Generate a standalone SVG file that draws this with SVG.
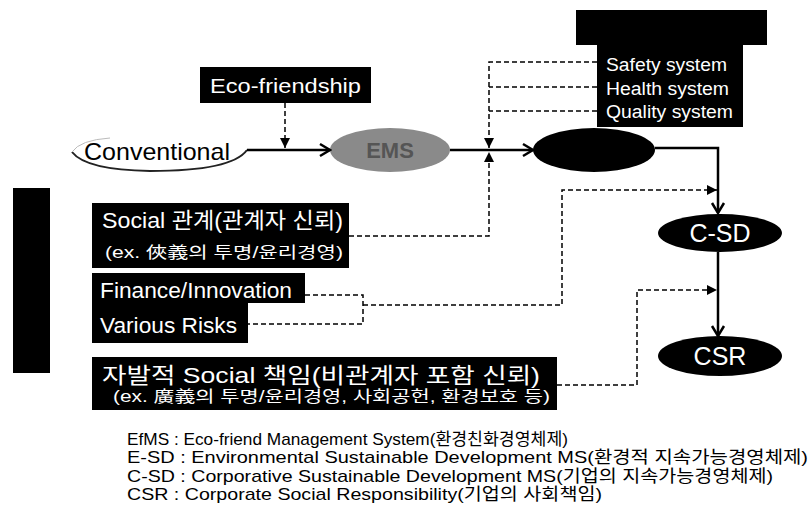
<svg xmlns="http://www.w3.org/2000/svg" width="811" height="519" viewBox="0 0 811 519">
<style>
text{font-family:"Liberation Sans","Noto Sans CJK KR",sans-serif;}
.w{fill:#fff;}
.k{fill:#000;}
.solid{stroke:#000;stroke-width:2.5;fill:none;}
.dash{stroke:#000;stroke-width:1.5;fill:none;stroke-dasharray:5,3;}
.leg{font-size:17px;fill:#000;}
</style>
<defs>
<marker id="open" viewBox="-12 -8 14 16" markerWidth="14" markerHeight="16" refX="0" refY="0" orient="auto" markerUnits="userSpaceOnUse">
<path d="M-10,-6 L0,0 L-10,6" fill="none" stroke="#000" stroke-width="2.5"/>
</marker>
<marker id="fill" viewBox="-11 -6 12 12" markerWidth="12" markerHeight="12" refX="0" refY="0" orient="auto" markerUnits="userSpaceOnUse">
<path d="M-10,-5 L0,0 L-10,5 Z" fill="#000"/>
</marker>
</defs>
<rect width="811" height="519" fill="#fff"/>

<g id="left-bar"><rect x="13" y="188" width="37" height="185" fill="#000"/></g>

<g id="eco"><rect x="200" y="67" width="171" height="36" fill="#000"/>
<text x="210" y="93" class="w" font-size="20" textLength="151" lengthAdjust="spacingAndGlyphs">Eco-friendship</text></g>

<g id="conventional">
<path d="M72,152 Q86,170 150,171 Q232,171 247,150" fill="none" stroke="#222" stroke-width="2"/>
<path d="M72,152 Q80,140 110,138" fill="none" stroke="#bbb" stroke-width="1"/>
<text x="84" y="160" class="k" font-size="24" textLength="146" lengthAdjust="spacingAndGlyphs">Conventional</text></g>

<g id="ems"><ellipse cx="390" cy="150" rx="60" ry="22" fill="#8a8a8a"/>
<text x="390" y="158" font-size="22" font-weight="bold" fill="#555" text-anchor="middle">EMS</text></g>

<g id="esd"><ellipse cx="594" cy="150" rx="61" ry="22" fill="#000"/></g>

<g id="systems"><path d="M576,10 H767 V45 H743 V127 H597 V45 H576 Z" fill="#000"/>
<text x="606" y="71" class="w" font-size="18" textLength="121" lengthAdjust="spacingAndGlyphs">Safety system</text>
<text x="606" y="95" class="w" font-size="18" textLength="123" lengthAdjust="spacingAndGlyphs">Health system</text>
<text x="606" y="118" class="w" font-size="18" textLength="127" lengthAdjust="spacingAndGlyphs">Quality system</text></g>

<g id="social"><rect x="92" y="203" width="257" height="65" fill="#000"/>
<text x="102" y="228" class="w" font-size="22" textLength="241" lengthAdjust="spacingAndGlyphs">Social 관계(관계자 신뢰)</text>
<text x="105" y="258" class="w" font-size="16" textLength="238" lengthAdjust="spacingAndGlyphs">(ex. 俠義의 투명/윤리경영)</text></g>

<g id="finance"><rect x="92" y="273" width="213" height="30" fill="#000"/><rect x="92" y="302" width="156" height="41" fill="#000"/>
<text x="100" y="298" class="w" font-size="22" textLength="192" lengthAdjust="spacingAndGlyphs">Finance/Innovation</text>
<text x="100" y="333" class="w" font-size="22" textLength="137" lengthAdjust="spacingAndGlyphs">Various Risks</text></g>

<g id="voluntary"><rect x="92" y="357" width="465" height="53" fill="#000"/>
<text x="102" y="383" class="w" font-size="22" textLength="438" lengthAdjust="spacingAndGlyphs">자발적 Social 책임(비관계자 포함 신뢰)</text>
<text x="113" y="402" class="w" font-size="16" textLength="437" lengthAdjust="spacingAndGlyphs">(ex. 廣義의 투명/윤리경영, 사회공헌, 환경보호 등)</text></g>

<g id="csd"><ellipse cx="720" cy="233" rx="62" ry="19" fill="#000"/>
<text x="720" y="242" class="w" font-size="25" text-anchor="middle">C-SD</text></g>

<g id="csr"><ellipse cx="720" cy="356" rx="62" ry="20" fill="#000"/>
<text x="720" y="365" class="w" font-size="25" text-anchor="middle">CSR</text></g>

<g id="connectors">
<path class="solid" d="M247,150 H330" marker-end="url(#open)"/>
<path class="solid" d="M450,150 H533" marker-end="url(#open)"/>
<path class="solid" d="M655,148 H718 V213" marker-end="url(#open)"/>
<path class="solid" d="M718,252 V336" marker-end="url(#open)"/>
<path class="dash" d="M285,103 V148" marker-end="url(#fill)"/>
<path class="dash" d="M597,62 H489 V148" marker-end="url(#fill)"/>
<path class="dash" d="M597,87 H489"/>
<path class="dash" d="M597,111 H489"/>
<path class="dash" d="M349,236 H489 V152" marker-end="url(#fill)"/>
<path class="dash" d="M305,295 H363 V324 H248"/>
<path class="dash" d="M363,305 H562 V190 H717" marker-end="url(#fill)"/>
<path class="dash" d="M557,385 H637 V290 H717" marker-end="url(#fill)"/>
</g>

<g id="legend">
<text x="127" y="445" class="leg" textLength="441" lengthAdjust="spacingAndGlyphs">EfMS : Eco-friend Management System(환경친화경영체제)</text>
<text x="127" y="463" class="leg" textLength="681" lengthAdjust="spacingAndGlyphs">E-SD : Environmental Sustainable Development MS(환경적 지속가능경영체제)</text>
<text x="127" y="482" class="leg" textLength="646" lengthAdjust="spacingAndGlyphs">C-SD : Corporative Sustainable Development MS(기업의 지속가능경영체제)</text>
<text x="127" y="500" class="leg" textLength="475" lengthAdjust="spacingAndGlyphs">CSR : Corporate Social Responsibility(기업의 사회책임)</text>
</g>
</svg>
